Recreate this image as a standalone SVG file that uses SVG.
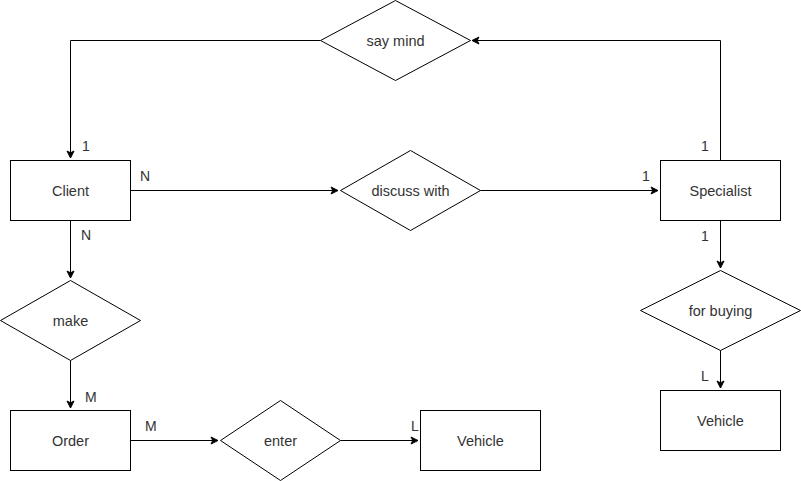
<svg xmlns="http://www.w3.org/2000/svg" width="801" height="481" viewBox="0 0 801 481">
<defs>
<marker id="arr" markerWidth="10" markerHeight="10" refX="8" refY="5" orient="auto" markerUnits="userSpaceOnUse">
<path d="M1,1.5 L8,5 L1,8.5 L2.8,5 Z" fill="#000" stroke="#000" stroke-width="1"/>
</marker>
</defs>
<style>
.box{fill:#fff;stroke:#000;stroke-width:1}
.t{font-family:"Liberation Sans",Arial,sans-serif;font-size:14.5px;fill:#333;text-anchor:middle;dominant-baseline:central}
.c{fill:none;stroke:#000;stroke-width:1;marker-end:url(#arr)}
.lbl{font-family:"Liberation Sans",Arial,sans-serif;font-size:14px;fill:#333}
</style>
<rect width="801" height="481" fill="#fff"/>
<g id="connectors">
<path class="c" d="M720.5,160.5 V40.5 H472"/>
<path class="c" d="M320.5,40.5 H70.5 V158"/>
<path class="c" d="M130.5,190.5 H338"/>
<path class="c" d="M480.5,190.5 H658"/>
<path class="c" d="M70.5,220.5 V278"/>
<path class="c" d="M70.5,360.5 V408"/>
<path class="c" d="M130.5,440.5 H218"/>
<path class="c" d="M340.5,440.5 H418"/>
<path class="c" d="M720.5,220.5 V268"/>
<path class="c" d="M720.5,350.5 V388"/>
</g>
<g id="labels">
<text class="lbl" x="82" y="151">1</text>
<text class="lbl" x="140" y="181">N</text>
<text class="lbl" x="81" y="240">N</text>
<text class="lbl" x="85" y="402">M</text>
<text class="lbl" x="145" y="431">M</text>
<text class="lbl" x="411" y="431">L</text>
<text class="lbl" x="701" y="151">1</text>
<text class="lbl" x="642" y="181">1</text>
<text class="lbl" x="701" y="241">1</text>
<text class="lbl" x="701" y="381">L</text>
</g>
<g id="say-mind">
<polygon class="box" points="395.5,0.5 470.5,40.5 395.5,80.5 320.5,40.5"/>
<text class="t" x="395.5" y="41">say mind</text>
</g>
<g id="client">
<rect class="box" x="10.5" y="160.5" width="120" height="60"/>
<text class="t" x="70.5" y="191">Client</text>
</g>
<g id="discuss-with">
<polygon class="box" points="410.5,150.5 480.5,190.5 410.5,230.5 340.5,190.5"/>
<text class="t" x="410.5" y="191">discuss with</text>
</g>
<g id="specialist">
<rect class="box" x="660.5" y="160.5" width="120" height="60"/>
<text class="t" x="720.5" y="191">Specialist</text>
</g>
<g id="make">
<polygon class="box" points="70.5,280.5 140.5,320.5 70.5,360.5 0.5,320.5"/>
<text class="t" x="70.5" y="321">make</text>
</g>
<g id="for-buying">
<polygon class="box" points="720.5,270.5 800.5,310.5 720.5,350.5 640.5,310.5"/>
<text class="t" x="720.5" y="311">for buying</text>
</g>
<g id="order">
<rect class="box" x="10.5" y="410.5" width="120" height="60"/>
<text class="t" x="70.5" y="441">Order</text>
</g>
<g id="enter">
<polygon class="box" points="280.5,400.5 340.5,440.5 280.5,480.5 220.5,440.5"/>
<text class="t" x="280.5" y="441">enter</text>
</g>
<g id="vehicle-1">
<rect class="box" x="420.5" y="410.5" width="120" height="60"/>
<text class="t" x="480.5" y="441">Vehicle</text>
</g>
<g id="vehicle-2">
<rect class="box" x="660.5" y="390.5" width="120" height="60"/>
<text class="t" x="720.5" y="421">Vehicle</text>
</g>
</svg>
